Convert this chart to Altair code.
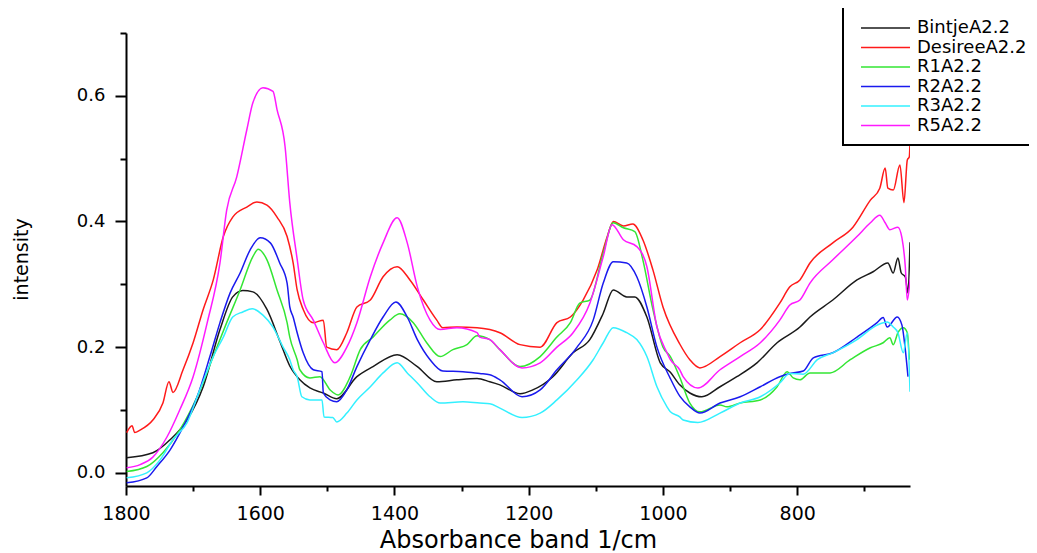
import altair as alt
import pandas as pd

series_names = ["BintjeA2.2", "DesireeA2.2", "R1A2.2", "R2A2.2", "R3A2.2", "R5A2.2"]
series_colors = ["#1a1a1a", "#ff1a1a", "#33e633", "#1a1aee", "#33f0ff", "#ff1aff"]

bintje_wn = [1799, 1760, 1734, 1709, 1685, 1660, 1641, 1626, 1611, 1590, 1571, 1556, 1541, 1526, 1506, 1486,
             1456, 1432, 1396, 1366, 1337, 1307, 1277, 1258, 1243, 1213, 1194, 1164, 1134, 1109, 1089, 1074,
             1054, 1042, 1024, 1004, 989, 975, 960, 942, 915, 890, 860, 830, 796, 781, 747, 711, 687, 665,
             657, 650, 645, 639, 635, 632]
bintje_int = [0.024, 0.032, 0.053, 0.084, 0.137, 0.228, 0.280, 0.290, 0.288, 0.260, 0.210, 0.170, 0.148, 0.135,
              0.127, 0.118, 0.153, 0.169, 0.188, 0.169, 0.145, 0.148, 0.150, 0.145, 0.140, 0.126, 0.132, 0.153,
              0.191, 0.212, 0.254, 0.291, 0.280, 0.280, 0.248, 0.175, 0.160, 0.140, 0.127, 0.121, 0.137, 0.153,
              0.175, 0.207, 0.232, 0.248, 0.275, 0.307, 0.320, 0.334, 0.318, 0.342, 0.318, 0.312, 0.286, 0.367]

desiree_wn = [1799, 1791, 1787, 1779, 1760, 1745, 1736, 1730, 1715, 1700, 1685, 1670, 1655, 1641, 1620, 1605,
              1590, 1575, 1560, 1551, 1545, 1536, 1521, 1506, 1501, 1486, 1471, 1456, 1436, 1417, 1396, 1377,
              1357, 1337, 1328, 1307, 1277, 1258, 1243, 1213, 1183, 1158, 1138, 1119, 1098, 1083, 1074, 1059,
              1045, 1030, 1015, 1000, 975, 960, 945, 915, 885, 855, 826, 811, 796, 781, 747, 717, 691, 677,
              669, 665, 657, 647, 641, 636, 633, 632]
desiree_int = [0.064, 0.075, 0.064, 0.068, 0.084, 0.111, 0.145, 0.128, 0.164, 0.207, 0.260, 0.307, 0.376, 0.407,
               0.423, 0.431, 0.426, 0.407, 0.376, 0.334, 0.291, 0.260, 0.239, 0.243, 0.200, 0.196, 0.223, 0.264,
               0.275, 0.312, 0.328, 0.307, 0.275, 0.243, 0.231, 0.232, 0.231, 0.228, 0.223, 0.204, 0.200, 0.239,
               0.248, 0.275, 0.323, 0.376, 0.400, 0.393, 0.396, 0.371, 0.323, 0.264, 0.205, 0.180, 0.167, 0.185,
               0.207, 0.228, 0.270, 0.296, 0.307, 0.334, 0.366, 0.391, 0.434, 0.453, 0.485, 0.453, 0.450, 0.490,
               0.430, 0.498, 0.503, 0.525]

r1_wn = [1799, 1769, 1745, 1720, 1694, 1670, 1650, 1630, 1611, 1603, 1590, 1575, 1560, 1556, 1545, 1541,
         1526, 1511, 1496, 1484, 1466, 1451, 1432, 1407, 1392, 1372, 1352, 1332, 1313, 1292, 1277, 1258,
         1243, 1213, 1183, 1158, 1138, 1124, 1109, 1089, 1074, 1059, 1042, 1030, 1015, 1000, 989, 975,
         960, 945, 915, 905, 885, 855, 830, 815, 806, 796, 781, 751, 721, 691, 672, 662, 657, 650,
         642, 636, 633]
r1_int = [0.002, 0.010, 0.032, 0.068, 0.121, 0.185, 0.239, 0.291, 0.344, 0.356, 0.339, 0.291, 0.239, 0.216,
          0.180, 0.164, 0.151, 0.153, 0.132, 0.124, 0.153, 0.196, 0.216, 0.243, 0.253, 0.239, 0.207, 0.185,
          0.196, 0.204, 0.218, 0.212, 0.196, 0.169, 0.185, 0.216, 0.239, 0.270, 0.275, 0.350, 0.398, 0.390,
          0.384, 0.339, 0.260, 0.200, 0.185, 0.152, 0.111, 0.097, 0.108, 0.105, 0.111, 0.116, 0.137, 0.161,
          0.151, 0.148, 0.159, 0.159, 0.180, 0.199, 0.207, 0.215, 0.204, 0.223, 0.231, 0.223, 0.180]

r2_wn = [1799, 1769, 1754, 1734, 1715, 1694, 1675, 1660, 1645, 1630, 1615, 1600, 1585, 1571, 1560, 1556,
         1551, 1545, 1536, 1521, 1508, 1506, 1496, 1486, 1471, 1456, 1436, 1417, 1398, 1381, 1366, 1347,
         1328, 1298, 1273, 1258, 1243, 1210, 1183, 1158, 1128, 1104, 1089, 1074, 1054, 1039, 1024, 1009,
         989, 975, 960, 945, 915, 885, 855, 826, 811, 791, 776, 747, 711, 681, 672, 666, 651, 644, 639, 635]
r2_int = [-0.016, -0.008, 0.010, 0.037, 0.073, 0.121, 0.185, 0.239, 0.286, 0.318, 0.355, 0.374, 0.366, 0.334,
          0.302, 0.264, 0.248, 0.223, 0.191, 0.164, 0.161, 0.127, 0.116, 0.113, 0.132, 0.169, 0.212, 0.248,
          0.272, 0.248, 0.212, 0.180, 0.162, 0.161, 0.158, 0.156, 0.148, 0.121, 0.132, 0.164, 0.200, 0.243,
          0.302, 0.336, 0.334, 0.312, 0.264, 0.200, 0.150, 0.122, 0.105, 0.095, 0.111, 0.121, 0.137, 0.153,
          0.158, 0.162, 0.183, 0.191, 0.216, 0.239, 0.247, 0.232, 0.248, 0.235, 0.196, 0.153]

r3_wn = [1799, 1769, 1749, 1730, 1709, 1690, 1670, 1655, 1641, 1626, 1612, 1596, 1581, 1566, 1556, 1551,
         1545, 1538, 1526, 1511, 1508, 1505, 1492, 1486, 1471, 1456, 1436, 1417, 1396, 1381, 1366, 1347,
         1332, 1298, 1273, 1258, 1243, 1210, 1183, 1158, 1128, 1104, 1089, 1074, 1054, 1039, 1024, 1009,
         994, 989, 975, 970, 948, 915, 885, 855, 826, 811, 791, 770, 747, 711, 681, 666, 657, 650, 642,
         636, 632]
r3_int = [-0.008, 0.000, 0.021, 0.053, 0.080, 0.132, 0.185, 0.216, 0.248, 0.256, 0.261, 0.251, 0.232, 0.200,
          0.180, 0.164, 0.153, 0.121, 0.116, 0.116, 0.116, 0.089, 0.088, 0.081, 0.095, 0.116, 0.137, 0.159,
          0.175, 0.159, 0.143, 0.121, 0.111, 0.113, 0.111, 0.110, 0.103, 0.088, 0.095, 0.116, 0.148, 0.180,
          0.207, 0.231, 0.223, 0.212, 0.185, 0.137, 0.105, 0.097, 0.089, 0.084, 0.080, 0.095, 0.111, 0.121,
          0.143, 0.158, 0.157, 0.180, 0.191, 0.212, 0.235, 0.240, 0.232, 0.223, 0.191, 0.223, 0.129]

r5_wn = [1799, 1779, 1760, 1739, 1720, 1700, 1679, 1660, 1650, 1635, 1620, 1611, 1596, 1581, 1575, 1563,
         1556, 1545, 1536, 1521, 1506, 1489, 1471, 1456, 1436, 1417, 1396, 1381, 1366, 1347, 1332, 1307,
         1277, 1273, 1258, 1243, 1210, 1183, 1158, 1134, 1109, 1089, 1076, 1059, 1039, 1024, 1009, 994,
         989, 975, 970, 948, 915, 885, 855, 826, 811, 796, 781, 747, 711, 691, 677, 669, 662, 650, 644,
         639, 636, 632]
r5_int = [0.008, 0.013, 0.025, 0.057, 0.100, 0.153, 0.239, 0.334, 0.418, 0.471, 0.546, 0.589, 0.613, 0.607,
          0.578, 0.519, 0.430, 0.340, 0.275, 0.243, 0.207, 0.175, 0.200, 0.239, 0.312, 0.366, 0.406, 0.366,
          0.296, 0.243, 0.228, 0.231, 0.223, 0.216, 0.212, 0.196, 0.167, 0.175, 0.200, 0.223, 0.270, 0.344,
          0.395, 0.371, 0.360, 0.328, 0.232, 0.191, 0.180, 0.164, 0.153, 0.135, 0.164, 0.185, 0.207, 0.243,
          0.267, 0.275, 0.302, 0.339, 0.376, 0.398, 0.410, 0.398, 0.387, 0.391, 0.374, 0.328, 0.275, 0.307]

x_ticks = [1800, 1700, 1600, 1500, 1400, 1300, 1200, 1100, 1000, 900, 800, 700]
y_ticks = [0.0, 0.1, 0.2, 0.3, 0.4, 0.5, 0.6, 0.7]

rows = []
for name, wns, vals in zip(series_names,
                           [bintje_wn, desiree_wn, r1_wn, r2_wn, r3_wn, r5_wn],
                           [bintje_int, desiree_int, r1_int, r2_int, r3_int, r5_int]):
    for w, v in zip(wns, vals):
        rows.append({"wavenumber": w, "intensity": v, "sample": name})
df = pd.DataFrame(rows)

FONT = "DejaVu Sans"

x_axis = alt.Axis(
    values=x_ticks,
    labelExpr="datum.value % 200 === 0 ? datum.label : ''",
    format="d",
    tickSize=alt.condition("datum.value % 200 === 0", alt.value(9), alt.value(5)),
    tickWidth=2, tickColor="black", domainWidth=2, domainColor="black",
    grid=False, labelFlush=False, labelOverlap=False,
    labelFont=FONT, labelFontSize=19, labelColor="black", labelPadding=9,
    title="Absorbance band 1/cm", titleFont=FONT, titleFontSize=24, titleFontWeight="normal",
    titleColor="black", titleX=392, titleY=61, titleBaseline="alphabetic", titleAlign="center",
)
y_axis = alt.Axis(
    values=y_ticks,
    labelExpr="round(datum.value * 10) % 2 === 0 ? format(datum.value, '.1f') : ''",
    tickSize=alt.condition("round(datum.value * 10) % 2 === 0", alt.value(11), alt.value(6)),
    tickWidth=2, tickColor="black", domainWidth=2, domainColor="black",
    grid=False, labelFlush=False, labelOverlap=False,
    labelFont=FONT, labelFontSize=18, labelColor="black", labelPadding=10,
    title="intensity", titleFont=FONT, titleFontSize=19, titleFontWeight="normal",
    titleColor="black", titleX=-99, titleY=226, titleAngle=270, titleBaseline="alphabetic",
    titleAlign="center",
)

chart = alt.Chart(df).mark_line(strokeWidth=1.5, interpolate="monotone", clip=True).encode(
    x=alt.X("wavenumber:Q", scale=alt.Scale(domain=[632, 1800], reverse=True, nice=False, zero=False),
            axis=x_axis),
    y=alt.Y("intensity:Q", scale=alt.Scale(domain=[-0.021, 0.7], nice=False, zero=False), axis=y_axis),
    color=alt.Color("sample:N", scale=alt.Scale(domain=series_names, range=series_colors),
                    legend=alt.Legend(orient="none", legendX=717, legendY=-28, title=" ",
                                      titleFontSize=4, titlePadding=0,
                                      symbolType="M-0.25,0L12,0", symbolSize=64, symbolStrokeWidth=1.6,
                                      labelFont=FONT, labelFontSize=18, labelColor="black",
                                      labelOffset=46, padding=10, rowPadding=1.5,
                                      fillColor="white", strokeColor="black")),
).properties(
    width=784, height=453,
    autosize=alt.AutoSizeParams(type="none"),
    padding={"left": 118, "top": 25, "right": 119, "bottom": 67},
).configure_view(stroke=None).configure_legend(strokeWidth=2)

chart.save("out.html", embed_options={"renderer": "svg", "actions": False})
